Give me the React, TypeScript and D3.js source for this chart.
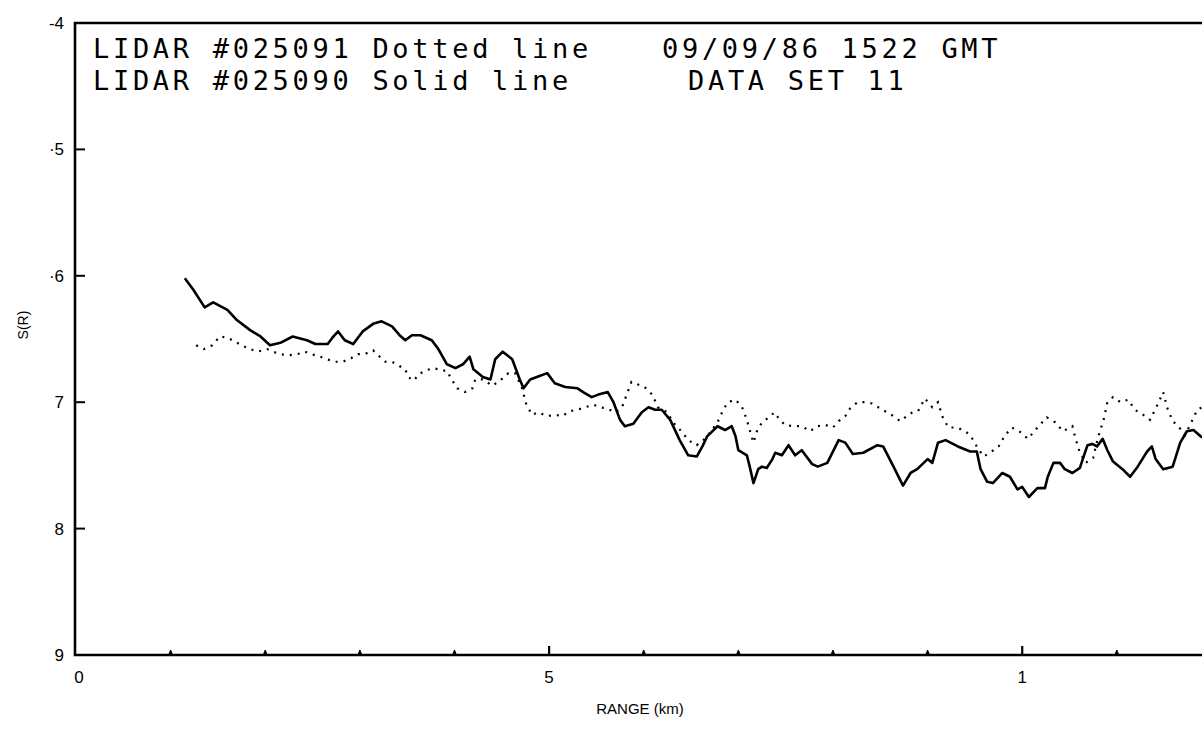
import React from "react";
import * as d3 from "d3";

// Solid line: LIDAR #025090
const solidRange = [1.15,1.24,1.36,1.45,1.60,1.70,1.84,1.95,2.05,2.16,2.29,2.44,2.53,2.66,2.71,2.77,2.84,2.93,3.03,3.14,3.23,3.34,3.42,3.48,3.55,3.64,3.76,3.83,3.92,4.01,4.09,4.16,4.20,4.30,4.38,4.43,4.51,4.61,4.69,4.73,4.80,4.87,4.98,5.06,5.17,5.30,5.36,5.45,5.52,5.62,5.68,5.75,5.80,5.89,5.98,6.05,6.12,6.19,6.28,6.38,6.47,6.56,6.62,6.67,6.78,6.86,6.93,6.97,7.00,7.09,7.12,7.16,7.21,7.25,7.30,7.36,7.39,7.46,7.53,7.60,7.67,7.78,7.84,7.94,8.06,8.13,8.21,8.32,8.47,8.53,8.64,8.74,8.82,8.89,9.00,9.05,9.11,9.19,9.32,9.45,9.52,9.56,9.63,9.69,9.79,9.87,9.95,10.00,10.07,10.16,10.24,10.27,10.33,10.40,10.45,10.53,10.61,10.64,10.69,10.74,10.79,10.85,10.90,10.96,11.06,11.14,11.22,11.32,11.37,11.41,11.49,11.59,11.67,11.74,11.81,11.90];
const solidS = [-6.02,-6.11,-6.25,-6.21,-6.27,-6.35,-6.43,-6.48,-6.55,-6.53,-6.48,-6.51,-6.54,-6.54,-6.49,-6.44,-6.51,-6.54,-6.44,-6.38,-6.36,-6.40,-6.47,-6.51,-6.47,-6.47,-6.51,-6.58,-6.70,-6.73,-6.70,-6.64,-6.74,-6.80,-6.82,-6.66,-6.60,-6.66,-6.82,-6.89,-6.82,-6.80,-6.77,-6.85,-6.88,-6.89,-6.92,-6.96,-6.94,-6.92,-7.00,-7.14,-7.19,-7.17,-7.08,-7.04,-7.06,-7.06,-7.14,-7.30,-7.42,-7.43,-7.35,-7.27,-7.19,-7.22,-7.19,-7.27,-7.38,-7.42,-7.51,-7.64,-7.53,-7.51,-7.52,-7.45,-7.40,-7.42,-7.34,-7.42,-7.38,-7.49,-7.51,-7.48,-7.30,-7.32,-7.41,-7.40,-7.34,-7.35,-7.51,-7.66,-7.56,-7.53,-7.45,-7.48,-7.32,-7.30,-7.35,-7.39,-7.39,-7.53,-7.63,-7.64,-7.56,-7.59,-7.69,-7.67,-7.75,-7.68,-7.68,-7.59,-7.48,-7.48,-7.53,-7.56,-7.52,-7.45,-7.34,-7.33,-7.35,-7.29,-7.38,-7.47,-7.53,-7.59,-7.51,-7.39,-7.35,-7.45,-7.53,-7.51,-7.32,-7.23,-7.22,-7.28];

// Dotted line: LIDAR #025091
const dottedRange = [1.27,1.35,1.44,1.52,1.60,1.68,1.75,1.84,1.92,2.02,2.08,2.16,2.24,2.34,2.42,2.49,2.58,2.65,2.74,2.82,2.91,2.98,3.05,3.14,3.21,3.27,3.34,3.41,3.48,3.51,3.57,3.62,3.69,3.78,3.88,3.92,3.97,4.03,4.11,4.19,4.22,4.30,4.40,4.48,4.57,4.64,4.71,4.76,4.82,4.88,4.98,5.06,5.14,5.22,5.30,5.38,5.47,5.54,5.61,5.70,5.77,5.82,5.87,5.94,6.01,6.09,6.15,6.25,6.31,6.41,6.47,6.56,6.63,6.70,6.78,6.84,6.89,6.97,7.04,7.09,7.12,7.16,7.20,7.25,7.34,7.38,7.42,7.49,7.58,7.67,7.76,7.83,7.92,8.00,8.06,8.13,8.18,8.26,8.34,8.41,8.50,8.57,8.64,8.71,8.78,8.84,8.90,8.97,9.05,9.11,9.16,9.22,9.30,9.38,9.45,9.52,9.59,9.66,9.75,9.82,9.89,9.99,10.06,10.15,10.26,10.35,10.43,10.53,10.56,10.61,10.67,10.75,10.80,10.86,10.90,10.96,11.04,11.12,11.19,11.28,11.35,11.43,11.49,11.53,11.59,11.65,11.72,11.80,11.85,11.90];
const dottedS = [-6.55,-6.58,-6.55,-6.48,-6.49,-6.52,-6.55,-6.58,-6.60,-6.58,-6.60,-6.62,-6.63,-6.62,-6.60,-6.62,-6.64,-6.66,-6.68,-6.68,-6.65,-6.62,-6.62,-6.59,-6.64,-6.68,-6.68,-6.71,-6.74,-6.80,-6.83,-6.78,-6.75,-6.73,-6.75,-6.75,-6.82,-6.89,-6.92,-6.89,-6.82,-6.82,-6.87,-6.83,-6.77,-6.77,-6.88,-7.02,-7.10,-7.08,-7.11,-7.10,-7.11,-7.07,-7.06,-7.04,-7.02,-7.04,-7.05,-7.08,-7.04,-6.94,-6.84,-6.86,-6.88,-6.94,-7.04,-7.08,-7.16,-7.24,-7.30,-7.34,-7.30,-7.24,-7.16,-7.06,-7.00,-6.98,-7.04,-7.14,-7.22,-7.32,-7.22,-7.16,-7.11,-7.08,-7.12,-7.18,-7.19,-7.19,-7.23,-7.19,-7.18,-7.20,-7.15,-7.11,-7.05,-7.00,-7.00,-7.01,-7.05,-7.08,-7.11,-7.15,-7.11,-7.08,-7.07,-6.97,-7.04,-7.00,-7.12,-7.20,-7.20,-7.22,-7.26,-7.35,-7.43,-7.40,-7.35,-7.26,-7.20,-7.24,-7.29,-7.21,-7.12,-7.16,-7.23,-7.19,-7.28,-7.40,-7.48,-7.44,-7.28,-7.14,-7.00,-6.96,-7.00,-6.98,-7.06,-7.10,-7.14,-7.02,-6.92,-7.04,-7.15,-7.19,-7.26,-7.14,-7.06,-7.04];

const yTickValues = [-4, -5, -6, -7, -8, -9];
const yTickLabels = ["-4", "·5", "·6", "7", "8", "9"];
const xMinorTicks = [1, 2, 3, 4, 6, 7, 8, 9, 11];
const xMajorTicks = [5, 10];
const xLabelValues = [0, 5, 10];
const xTickLabels = ["0", "5", "1"];
const titleLines = [
  ["LIDAR #025091 Dotted line", "09/09/86 1522 GMT"],
  ["LIDAR #025090 Solid line", "DATA SET 11"],
];

const W = 1202, H = 740;
const left = 75, top = 23, right = 1202, bottom = 655;

export default function App() {
  const x = d3.scaleLinear().domain([0, 11.9]).range([76, 1202]);
  const y = d3.scaleLinear().domain([-4, -9]).range([top, bottom]);
  const line = d3.line<[number, number]>().x(d => x(d[0])).y(d => y(d[1]));
  const solidPts = solidRange.map((r, i) => [r, solidS[i]] as [number, number]);
  const dottedPts = dottedRange.map((r, i) => [r, dottedS[i]] as [number, number]);
  const labelFont = "'Liberation Sans', Arial, sans-serif";
  const monoFont = "'DejaVu Sans Mono', monospace";
  return (
    <svg width={W} height={H} style={{ position: "absolute", left: 0, top: 0, background: "#fff" }}>
      <defs>
        <clipPath id="plot">
          <rect x={left} y={top} width={right - left} height={bottom - top} />
        </clipPath>
      </defs>
      <rect x={0} y={0} width={W} height={H} fill="#fff" />
      {/* frame */}
      <path d={`M${right},${top} L${left},${top} L${left},${bottom} L${right},${bottom}`} fill="none" stroke="#000" strokeWidth={2.6} />
      {/* y ticks */}
      {yTickValues.map((v, i) => (
        <g key={"y" + v}>
          {i > 0 && i < yTickValues.length - 1 && (
            <line x1={left} x2={left + 10} y1={y(v)} y2={y(v)} stroke="#000" strokeWidth={2} />
          )}
          <text x={64} y={y(v) + 6} textAnchor="end" fontFamily={labelFont} fontSize={17} fill="#000">
            {yTickLabels[i]}
          </text>
        </g>
      ))}
      {/* x ticks */}
      {xMinorTicks.map(v => (
        <path key={"xm" + v} d={`M${x(v) - 2},${bottom} L${x(v)},${bottom - 5} L${x(v) + 2},${bottom}`} fill="#000" stroke="#000" strokeWidth={1} />
      ))}
      {xMajorTicks.map(v => (
        <line key={"xM" + v} x1={x(v)} x2={x(v)} y1={bottom} y2={bottom - 9} stroke="#000" strokeWidth={2.2} />
      ))}
      {xLabelValues.map((v, i) => (
        <text key={"xl" + v} x={x(v) + (v === 0 ? 3 : 0)} y={683} textAnchor="middle" fontFamily={labelFont} fontSize={17} fill="#000">
          {xTickLabels[i]}
        </text>
      ))}
      {/* axis titles */}
      <text x={640} y={714} textAnchor="middle" fontFamily={labelFont} fontSize={15} fill="#000">RANGE (km)</text>
      <text transform="translate(28,325) rotate(-90)" textAnchor="middle" fontFamily={labelFont} fontSize={14} fill="#000">S(R)</text>
      {/* title block */}
      <g fontFamily={monoFont} fontSize={27} letterSpacing={3.7} fill="#000">
        <text x={93} y={58}>{titleLines[0][0]}</text>
        <text x={662} y={58}>{titleLines[0][1]}</text>
        <text x={93} y={90}>{titleLines[1][0]}</text>
        <text x={688} y={90}>{titleLines[1][1]}</text>
      </g>
      {/* data */}
      <g clipPath="url(#plot)">
        <path d={line(dottedPts) || ""} fill="none" stroke="#000" strokeWidth={2.2} strokeDasharray="2 6" />
        <path d={line(solidPts) || ""} fill="none" stroke="#000" strokeWidth={2.6} strokeLinejoin="round" />
      </g>
    </svg>
  );
}
